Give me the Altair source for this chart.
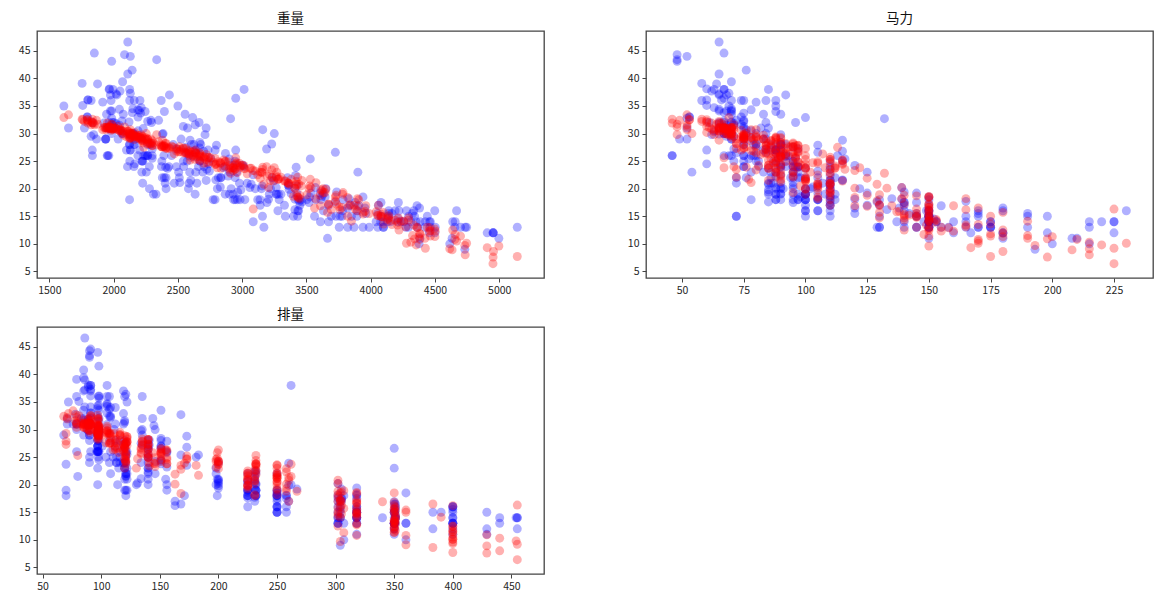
import altair as alt
import pandas as pd

mpg = [
    18,15,18,16,17,15,14,14,14,15, 15,14,15,14,24,22,18,21,27,26,
    25,24,25,26,21,10,10,11,9,27, 28,25,19,16,17,19,18,14,14,14,
    14,12,13,13,18,22,19,18,23,28, 30,30,31,35,27,26,24,25,23,20,
    21,13,14,15,14,17,11,13,12,13, 19,15,13,13,14,18,22,21,26,22,
    28,23,28,27,13,14,13,14,15,12, 13,13,14,13,12,13,18,16,18,18,
    23,26,11,12,13,12,18,20,21,22, 18,19,21,26,15,16,29,24,20,19,
    15,24,20,11,20,19,15,31,26,32, 25,16,16,18,16,13,14,14,14,29,
    26,26,31,32,28,24,26,24,26,31, 19,18,15,15,16,15,16,14,17,16,
    15,18,21,20,13,29,23,20,23,24, 25,24,18,29,19,23,23,22,25,33,
    28,25,25,26,27,17.5,16,15.5,14.5,22, 22,24,22.5,29,24.5,29,33,20,18,18.5,
    17.5,29.5,32,28,26.5,20,13,19,19,16.5, 16.5,13,13,13,31.5,30,36,25.5,33.5,17.5,
    17,15.5,15,17.5,20.5,19,18.5,16,15.5,15.5, 16,29,24.5,26,25.5,30.5,33.5,30,30.5,22,
    21.5,21.5,43.1,36.1,32.8,39.4,36.1,19.9,19.4,20.2, 19.2,20.5,19.4,20.6,20.8,18.6,18.1,19.2,17.7,18.1,
    17.5,30,27.5,27.2,30.9,21.1,23.2,23.8,23.9,20.3, 17,21.6,16.2,31.5,29.5,21.5,19.8,22.3,20.2,20.6,
    17,17.6,16.5,18.2,16.9,15.5,19.2,18.5,31.9,34.1, 35.7,27.4,25.4,23,27.2,23.9,34.2,34.5,31.8,37.3,
    28.4,28.8,26.8,33.5,41.5,38.1,32.1,37.2,28,26.4, 24.3,19.1,34.3,29.8,31.3,37,32.2,46.6,27.9,40.8,
    44.3,43.4,36.4,30,44.6,33.8,29.8,32.7,23.7,35, 32.4,27.2,26.6,25.8,23.5,30,39.1,39,35.1,32.3,
    37,37.7,34.1,34.7,34.4,29.9,33,33.7,32.4,32.9, 31.6,28.1,30.7,25.4,24.2,22.4,26.6,20.2,17.6,28,
    27,34,31,29,27,24,36,37,31,38, 36,36,36,34,38,32,38,25,38,26,
    22,32,36,27,27,44,32,28,31,
]
displacement = [
    307,350,318,304,302,429,454,440,455,390, 383,340,400,455,113,198,199,200,97,97,
    110,107,104,121,199,360,307,318,304,97, 140,113,232,225,250,250,232,350,400,351,
    318,383,400,400,258,140,250,250,122,116, 79,88,71,72,97,91,113,97.5,97,140,
    122,350,400,318,351,304,429,350,350,400, 70,304,307,302,318,121,121,120,96,122,
    97,120,98,97,350,304,350,302,318,429, 400,351,318,440,455,360,225,250,232,250,
    198,97,400,400,360,350,232,97,140,108, 70,122,155,98,350,400,68,116,114,121,
    318,121,156,350,198,232,250,79,122,71, 140,250,258,225,302,350,318,302,304,98,
    79,97,76,83,90,90,116,120,108,79, 225,250,250,250,400,350,318,351,231,250,
    258,225,231,262,302,97,140,232,140,134, 90,119,171,90,232,115,120,121,121,91,
    107,116,140,98,101,305,318,304,351,225, 250,200,232,85,98,90,91,225,250,250,
    258,97,85,97,140,130,318,120,156,168, 350,350,302,318,98,111,79,122,85,305,
    260,318,302,250,231,225,250,400,350,400, 351,97,151,97,140,98,98,97,97,146,
    121,80,90,98,78,85,91,260,318,302, 231,200,200,225,200,225,258,305,231,302,
    318,98,134,119,105,134,156,151,119,131, 163,121,163,89,98,231,200,140,232,225,
    305,302,351,318,350,351,267,360,89,86, 98,121,183,350,141,260,105,105,85,91,
    151,173,173,151,98,89,98,86,151,140, 151,225,97,134,120,119,108,86,156,85,
    90,90,121,146,91,97,89,168,70,122, 107,135,151,156,173,135,79,86,81,97,
    85,89,91,105,98,98,105,107,108,119, 120,141,145,168,146,231,350,200,225,112,
    112,112,112,135,151,140,105,91,91,105, 98,120,107,108,91,91,91,181,262,156,
    232,144,135,151,140,97,135,120,119,
]
horsepower = [
    130,165,150,150,140,198,220,215,225,190, 170,160,150,225,95,95,97,85,88,46,
    87,90,95,113,90,215,200,210,193,88, 90,95,100,105,100,88,100,165,175,153,
    150,180,170,175,110,72,100,88,86,90, 70,76,65,69,60,70,95,80,54,90,
    86,165,175,150,153,150,208,155,160,190, 97,150,130,140,150,112,76,87,69,86,
    92,97,80,88,175,150,145,137,150,198, 150,158,150,215,225,175,105,100,100,88,
    95,46,150,167,170,180,100,88,72,94, 90,85,107,90,145,230,49,75,91,112,
    150,110,122,180,95,100,100,67,80,65, 75,100,110,105,140,150,150,140,150,83,
    67,78,52,61,75,75,75,97,93,67, 95,105,72,72,170,145,150,148,110,105,
    110,95,110,110,129,75,83,100,78,96, 71,97,97,70,90,95,88,98,115,53,
    86,81,92,79,83,140,150,120,152,100, 105,81,90,52,60,70,53,100,78,110,
    95,71,70,75,72,102,150,88,108,120, 180,145,130,150,68,80,58,96,70,145,
    110,145,130,110,105,100,98,180,170,190, 149,78,88,75,89,63,83,67,78,97,
    110,110,48,66,52,70,60,110,140,139, 105,95,85,110,85,110,120,145,165,139,
    140,68,95,97,75,95,105,85,97,103, 125,115,133,71,68,115,85,88,90,110,
    130,129,138,135,155,142,125,150,71,65, 80,80,77,125,71,90,70,70,65,69,
    90,115,115,90,76,60,70,65,90,88, 90,90,78,90,75,92,75,65,105,65,
    48,48,67,67,67,67,62,132,100,88, 72,84,84,92,110,84,58,64,60,67,
    65,62,68,63,65,65,74,75,75,100, 74,80,76,116,120,110,105,88,85,88,
    88,88,85,84,90,92,74,68,68,63, 70,88,75,70,67,67,67,110,85,92,
    112,96,84,90,86,52,84,79,82,
]
weight = [
    3504,3693,3436,3433,3449,4341,4354,4312,4425,3850, 3563,3609,3761,3086,2372,2833,2774,2587,2130,1835,
    2672,2430,2375,2234,2648,4615,4376,4382,4732,2130, 2264,2228,2634,3439,3329,3302,3288,4209,4464,4154,
    4096,4955,4746,5140,2962,2408,3282,3139,2220,2123, 2074,2065,1773,1613,1834,1955,2278,2126,2254,2408,
    2226,4274,4385,4135,4129,3672,4633,4502,4456,4422, 2330,3892,4098,4294,4077,2933,2511,2979,2189,2395,
    2288,2506,2164,2100,4100,3672,3988,4042,3777,4952, 4464,4363,4237,4735,4951,3821,3121,3278,2945,3021,
    2904,1950,4997,4906,4654,4499,2789,2279,2401,2379, 2124,2310,2472,2265,4082,4278,1867,2158,2582,2868,
    3399,2660,2807,3664,3102,2901,3336,1950,2451,1836, 2542,3781,3632,3613,4141,4699,4457,4638,4257,2219,
    1963,2300,1649,2003,2125,2108,2246,2489,2391,2000, 3264,3459,3432,3158,4668,4440,4498,4657,3907,3897,
    3730,3785,3039,3221,3169,2171,2639,2914,2592,2702, 2223,2545,2984,1937,3211,2694,2957,2945,2671,1795,
    2464,2220,2572,2255,2202,4215,4190,3962,4215,3233, 3353,3012,3085,2035,2164,1937,1795,3651,3574,3645,
    3193,1825,1990,2155,2565,3150,3940,3270,2930,3820, 4380,4055,3870,3755,2045,2155,1825,2300,1945,3880,
    4060,4140,4295,3520,3425,3630,3525,4220,4165,4325, 4335,1940,2740,2265,2755,2051,2075,1985,2190,2815,
    2600,2720,1985,1800,1985,2070,1800,3365,3735,3570, 3535,3155,2965,3360,3070,3620,3410,3425,3445,3205,
    4080,2155,2560,2300,2230,2515,2745,2855,2405,2830, 3140,2795,3410,1990,2135,3245,2990,2890,3265,3360,
    3840,3725,3955,3830,4360,4054,3605,3940,1925,1975, 1915,2670,3530,3900,3190,3420,2200,2150,2020,2130,
    2670,2595,2700,2556,2144,1968,2120,2019,2678,2870, 3003,3381,2188,2711,2542,2434,2265,2110,2800,2110,
    2085,2335,2950,3250,1850,2145,1845,2910,2420,2500, 2290,2490,2635,2620,2725,2385,1755,1875,1760,2065,
    1975,2050,1985,2215,2045,2380,2190,2210,2350,2615, 2635,3230,3160,2900,2930,3415,3725,3060,3465,2605,
    2640,2395,2575,2525,2735,2865,1980,2025,1970,2125, 2125,2160,2205,2245,1965,1965,1995,2945,3015,2585,
    2835,2665,2370,2950,2790,2130,2295,2625,2720,
]
predicted = [
    18.9,16.2,18.4,18.5,18.8,10.9,9.8,10.3,9.2,14.1, 16.5,16.9,16.2,16.3,27.6,24.6,24.8,26.3,29.2,32.6,
    26.3,27.5,27.6,27.5,25.8,9.1,11.3,10.8,9.7,29.2, 28.2,28.3,25.3,20.8,21.4,22.1,21.8,13.4,11.4,14.2,
    14.9,8.6,10.1,7.7,22.9,28.2,21.7,23.0,28.7,29.1, 30.4,30.1,32.2,32.9,32.0,30.9,28.1,29.6,30.0,27.4,
    28.7,13.1,11.8,14.6,14.4,17.2,8.9,12.3,12.3,11.0, 27.9,16.0,15.7,14.3,15.0,23.8,27.6,24.6,29.7,27.8,
    28.2,26.7,29.4,29.4,13.6,17.2,15.5,15.8,16.6,7.6, 12.4,12.9,14.1,8.0,6.4,15.0,22.5,21.7,23.6,23.6,
    24.2,31.9,9.6,9.3,10.8,11.3,24.4,28.4,28.2,27.6, 29.3,28.3,26.3,28.4,14.9,10.1,32.4,29.5,26.6,24.1,
    18.6,25.3,23.8,15.7,23.2,23.8,21.4,31.2,27.7,31.9, 27.3,19.0,19.3,19.8,15.1,11.4,12.9,12.5,14.1,29.0,
    31.1,28.7,33.4,31.1,29.8,29.9,29.0,26.8,27.6,30.9, 22.1,20.5,22.1,23.5,10.5,13.0,12.7,11.7,18.0,18.2,
    18.8,19.3,22.7,21.5,20.8,29.6,26.5,23.8,26.9,25.6, 29.5,26.5,23.9,31.1,22.6,25.8,24.7,24.3,25.1,32.5,
    27.5,28.9,26.4,28.9,29.0,14.7,14.3,16.9,13.9,22.1, 21.1,24.2,23.3,31.3,30.2,31.1,32.5,19.9,21.1,19.3,
    22.3,31.6,30.8,29.6,27.3,23.0,15.7,23.0,23.8,18.4, 11.9,15.1,17.0,16.7,30.5,29.3,32.2,27.8,31.0,16.3,
    17.0,14.8,14.7,20.0,20.8,20.0,20.5,12.5,13.5,11.5, 13.4,30.7,25.7,29.0,25.6,30.7,29.7,30.9,29.3,24.9,
    25.7,25.3,31.7,31.9,31.6,30.4,32.2,20.8,17.2,18.2, 20.2,22.9,24.3,21.0,23.7,19.6,20.1,18.7,18.2,20.2,
    15.4,29.9,26.4,27.8,29.2,26.7,24.9,25.2,27.3,24.7, 21.9,24.4,20.1,30.7,30.0,21.4,24.2,24.9,22.3,21.0,
    17.1,17.8,15.9,16.9,13.0,15.2,18.8,15.4,31.1,31.1, 30.7,26.5,21.7,16.8,24.0,21.3,29.6,29.8,30.9,30.0,
    26.0,25.2,24.6,26.6,29.6,31.3,30.0,30.9,25.9,25.0, 24.2,21.7,29.3,25.8,27.4,27.3,29.0,30.4,24.6,30.4,
    31.2,29.8,25.6,23.8,31.6,30.0,31.9,22.8,27.3,27.1, 29.0,27.3,26.4,26.1,24.7,27.8,32.6,31.7,32.5,30.5,
    31.1,30.8,30.9,29.8,30.6,28.8,29.4,29.3,28.5,26.0, 27.0,23.4,23.9,23.5,23.3,20.7,18.5,23.7,21.5,26.6,
    26.4,27.7,26.9,27.1,25.6,24.9,30.6,30.7,30.9,30.3, 30.0,28.9,29.3,29.3,31.0,31.0,30.9,23.5,23.7,26.3,
    23.7,25.8,27.9,24.5,25.5,30.7,28.3,26.8,26.2,
]

weight_ticks = [1500, 2000, 2500, 3000, 3500, 4000, 4500, 5000]
hp_ticks = [50, 75, 100, 125, 150, 175, 200, 225]
disp_ticks = [50, 100, 150, 200, 250, 300, 350, 400, 450]
y_ticks = [5, 10, 15, 20, 25, 30, 35, 40, 45]

df = pd.DataFrame({
    "mpg": mpg, "displacement": displacement, "horsepower": horsepower,
    "weight": weight, "predicted": predicted,
})

FONT = "Noto Sans CJK SC"


def panel(field, title, domain, ticks):
    x = alt.X(field, type="quantitative", title=None,
              scale=alt.Scale(domain=domain, nice=False, zero=False),
              axis=alt.Axis(values=ticks, grid=False, domain=False, tickColor="#444444",
                            tickSize=4, labelPadding=3, labelFontSize=10.5, labelFont=FONT,
                            labelColor="#262626", format="d", labelFlush=False, labelOverlap=False))
    def y(name):
        return alt.Y(name, type="quantitative", title=None,
                     scale=alt.Scale(domain=[3.8, 48.6], nice=False, zero=False),
                     axis=alt.Axis(values=y_ticks, grid=False, domain=False, tickColor="#444444",
                                   tickSize=4, labelPadding=3, labelFontSize=10.5, labelFont=FONT,
                                   labelColor="#262626", format="d"))
    blue = alt.Chart(df).mark_circle(size=80, opacity=0.31, color="blue").encode(x=x, y=y("mpg"))
    red = alt.Chart(df).mark_circle(size=80, opacity=0.31, color="red").encode(x=x, y=y("predicted"))
    return alt.layer(blue, red).properties(
        width=507, height=247,
        title=alt.TitleParams(title, font=FONT, fontSize=13.5, fontWeight="normal",
                              color="#111111", offset=6),
    )


chart = alt.concat(
    panel("weight", "重量", [1404, 5348], weight_ticks),
    panel("horsepower", "马力", [35.4, 240.8], hp_ticks),
    panel("displacement", "排量", [45.2, 477.8], disp_ticks),
    columns=2,
    spacing={"row": 49, "column": 102},
    bounds="flush",
).configure_view(stroke="#444444", strokeWidth=1.3, fill="white").properties(
    padding={"left": 9, "top": 2, "right": 5, "bottom": 5},
    background="white",
)
chart.save("out.html", embed_options={"renderer": "svg", "actions": False})
